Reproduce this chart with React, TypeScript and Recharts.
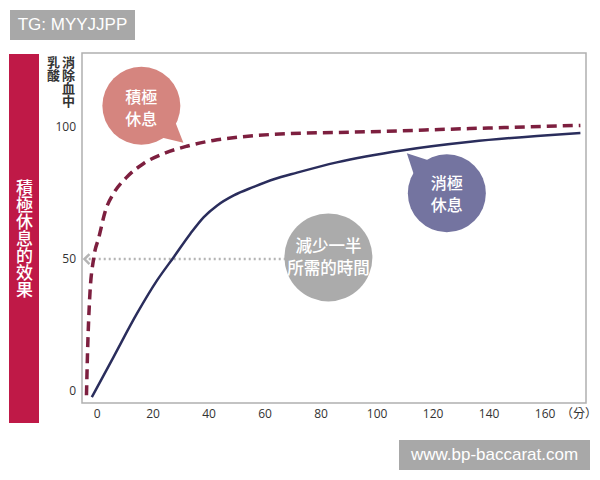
import {
  LineChart,
  Line,
  XAxis,
  YAxis,
  ReferenceArea,
  ReferenceLine,
  ReferenceDot,
} from "recharts";

// 積極休息（虛線）
const activeX = [-3.8, -3.4, -2.7, -1.2, 0.6, 3.0, 5.8, 10.6, 16.5, 23.7, 32.0, 41.5, 51.1, 63.0, 97.6, 133.3, 172.6];
const activeY = [-1.6, 15.4, 34.4, 50.5, 58.1, 68.4, 74.7, 81.0, 86.1, 89.9, 92.7, 94.9, 96.2, 97.2, 98.2, 99.4, 100.6];

// 消極休息（實線）
const passiveX = [-1.9, 5.8, 14.2, 21.4, 27.4, 33.3, 38.1, 42.9, 48.8, 55.9, 63.1, 71.4, 85.6, 109.4, 133.3, 157.1, 172.6];
const passiveY = [-2.3, 12.8, 29.3, 41.9, 50.8, 59.6, 65.9, 70.3, 74.1, 77.3, 80.2, 82.7, 86.6, 91.2, 94.4, 96.6, 97.7];

const xTicks = [0, 20, 40, 60, 80, 100, 120, 140, 160];
const yTicks = [0, 50, 100];

const activeData = activeX.map((x, i) => ({ x, y: activeY[i] }));
const passiveData = passiveX.map((x, i) => ({ x, y: passiveY[i] }));

const CJK = '"Noto Sans CJK TC", "Noto Sans", sans-serif';

function Bubble(props: any) {
  const { cx, cy, r, fill, lines, tail, size, offsets } = props;
  let tailShape = null;
  if (tail) {
    const ang = Math.atan2(tail[1], tail[0]);
    const a1 = ang - 0.32;
    const a2 = ang + 0.32;
    const pts = [
      [cx + Math.cos(a1) * (r - 3), cy + Math.sin(a1) * (r - 3)],
      [cx + tail[0], cy + tail[1]],
      [cx + Math.cos(a2) * (r - 3), cy + Math.sin(a2) * (r - 3)],
    ];
    tailShape = <polygon points={pts.map((p) => p.join(",")).join(" ")} fill={fill} />;
  }
  return (
    <g>
      {tailShape}
      <circle cx={cx} cy={cy} r={r} fill={fill} />
      <text textAnchor="middle" fill="#fff" fontSize={size} fontWeight={500} fontFamily={CJK}>
        {lines.map((t: string, i: number) => (
          <tspan key={i} x={cx} y={cy + offsets[i]} dominantBaseline="central">
            {t}
          </tspan>
        ))}
      </text>
    </g>
  );
}

function Chevron(props: any) {
  const { cx, cy } = props;
  return (
    <polyline
      points={`${cx + 3},${cy - 5} ${cx - 2},${cy} ${cx + 3},${cy + 5}`}
      fill="none"
      stroke="#b5b5b5"
      strokeWidth={2.5}
    />
  );
}

export default function App() {
  return (
    <div style={{ position: "absolute", left: 0, top: 0, width: 600, height: 480, background: "#fff" }}>
      <div
        style={{
          position: "absolute",
          left: 10,
          top: 10,
          width: 125,
          height: 30,
          background: "#a8a8a8",
          color: "#fff",
          fontFamily: '"Liberation Sans", Arial, sans-serif',
          fontSize: 17,
          lineHeight: "30px",
          textAlign: "center",
        }}
      >
        TG: MYYJJPP
      </div>

      <div
        style={{
          position: "absolute",
          left: 9,
          top: 54,
          width: 30,
          height: 369,
          background: "#bf1947",
          display: "flex",
          alignItems: "center",
          justifyContent: "center",
        }}
      >
        <div
          style={{
            writingMode: "vertical-rl",
            color: "#fff",
            fontFamily: CJK,
            fontSize: 17,
            fontWeight: 500,
            lineHeight: "20px",
          }}
        >
          積極休息的效果
        </div>
      </div>

      <div
        style={{
          position: "absolute",
          left: 61,
          top: 56,
          writingMode: "vertical-rl",
          fontFamily: CJK,
          fontSize: 13,
          fontWeight: 700,
          lineHeight: "15px",
          color: "#333",
        }}
      >
        消除血中
      </div>
      <div
        style={{
          position: "absolute",
          left: 46,
          top: 56,
          writingMode: "vertical-rl",
          fontFamily: CJK,
          fontSize: 13,
          fontWeight: 700,
          lineHeight: "15px",
          color: "#333",
        }}
      >
        乳酸
      </div>

      <div style={{ position: "absolute", left: 0, top: 0 }}>
        <LineChart width={600} height={480} margin={{ top: 53, right: 14, bottom: 47, left: 42 }}>
          <XAxis
            dataKey="x"
            type="number"
            domain={[-5.4, 174.6]}
            ticks={xTicks}
            allowDataOverflow
            axisLine={false}
            tickLine={false}
            tickSize={4}
            tickMargin={2}
            height={30}
            tick={{ fontSize: 12, fill: "#333", fontFamily: '"Open Sans", sans-serif' }}
          />
          <YAxis
            dataKey="y"
            type="number"
            domain={[-4.5, 128]}
            ticks={yTicks}
            allowDataOverflow
            axisLine={false}
            tickLine={false}
            tickSize={4}
            tickMargin={2}
            width={40}
            tick={{ fontSize: 12, fill: "#333", fontFamily: '"Open Sans", sans-serif' }}
          />
          <ReferenceArea
            x1={-5.4}
            x2={174.6}
            y1={-4.5}
            y2={128}
            fill="none"
            stroke="#b0b0b0"
            strokeWidth={1.5}
            ifOverflow="visible"
          />
          <ReferenceLine
            segment={[
              { x: -3.0, y: 50 },
              { x: 70, y: 50 },
            ]}
            stroke="#b5b5b5"
            strokeWidth={2.5}
            strokeDasharray="2 3"
          />
          <Line
            data={passiveData}
            dataKey="y"
            type="monotone"
            stroke="#2a2d5c"
            strokeWidth={2.5}
            dot={false}
            isAnimationActive={false}
          />
          <Line
            data={activeData}
            dataKey="y"
            type="monotone"
            stroke="#7d1f3f"
            strokeWidth={3.5}
            strokeDasharray="10 6"
            dot={false}
            isAnimationActive={false}
          />
          <ReferenceDot x={-3.8} y={50} shape={(p: any) => <Chevron {...p} />} />
          <ReferenceDot
            x={15.8}
            y={108}
            shape={(p: any) => (
              <Bubble
                {...p}
                r={39}
                fill="#d5857f"
                lines={["積極", "休息"]}
                offsets={[-10, 12]}
                size={16}
                tail={[42, 37]}
              />
            )}
          />
          <ReferenceDot
            x={124.9}
            y={74.9}
            shape={(p: any) => (
              <Bubble
                {...p}
                r={39}
                fill="#7474a0"
                lines={["消極", "休息"]}
                offsets={[-11, 11]}
                size={16}
                tail={[-40, -40]}
              />
            )}
          />
          <ReferenceDot
            x={82.6}
            y={50.6}
            shape={(p: any) => (
              <Bubble
                {...p}
                r={44}
                fill="#ababab"
                lines={["減少一半", "所需的時間"]}
                offsets={[-12, 10]}
                size={16.5}
              />
            )}
          />
        </LineChart>
      </div>

      <div
        style={{
          position: "absolute",
          left: 561,
          top: 404,
          fontFamily: CJK,
          fontSize: 12,
          color: "#333",
        }}
      >
        （分）
      </div>

      <div
        style={{
          position: "absolute",
          left: 399,
          top: 440,
          width: 191,
          height: 30,
          background: "#a8a8a8",
          color: "#fff",
          fontFamily: '"Liberation Sans", Arial, sans-serif',
          fontSize: 17,
          lineHeight: "30px",
          textAlign: "center",
        }}
      >
        www.bp-baccarat.com
      </div>
    </div>
  );
}
